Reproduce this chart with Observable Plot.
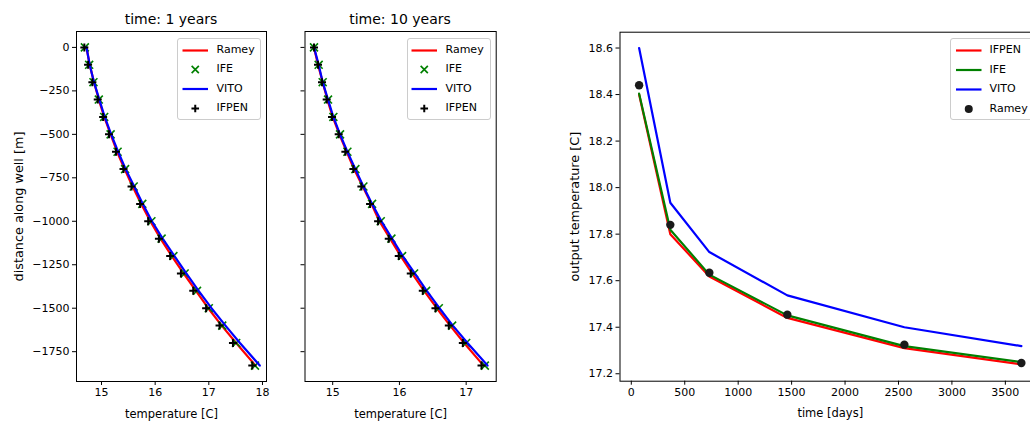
<!DOCTYPE html>
<html><head><meta charset="utf-8">
<script src="https://cdn.jsdelivr.net/npm/d3@7"></script>
<script src="https://cdn.jsdelivr.net/npm/@observablehq/plot@0.6"></script>
<style>
html,body{margin:0;padding:0;background:#fff;overflow:hidden;}
#wrap{position:relative;width:1030px;height:421px;overflow:hidden;font-family:"DejaVu Sans",sans-serif;color:#000;}
#wrap svg.panel{position:absolute;top:0;}
#wrap svg.panel g[aria-label="x-axis label"] text{font-size:11.5px;}
#wrap svg.panel g[aria-label="y-axis label"] text{font-size:12.8px;}
.title{position:absolute;font-size:14px;line-height:14px;white-space:nowrap;transform:translateX(-50%);}
.legend{position:absolute;background:rgba(255,255,255,0.8);border:1px solid #cccccc;border-radius:3px;box-sizing:border-box;font-size:11px;}
.legend .lab{position:absolute;line-height:12px;white-space:nowrap;transform:translateY(-50%);}
.legend svg{position:absolute;left:0;top:0;overflow:visible;}
</style></head>
<body>
<div id="wrap"></div>
<script>
// ---------- data ----------
const depth = [0,-100,-200,-300,-400,-500,-600,-700,-800,-900,-1000,-1100,-1200,-1300,-1400,-1500,-1600,-1700,-1830];

// time: 1 years
const ramey1 = [14.72,14.78,14.86,14.95,15.05,15.17,15.29,15.43,15.58,15.74,15.91,16.10,16.31,16.53,16.76,16.99,17.24,17.51,17.87];
const ife1   = [14.69,14.77,14.85,14.95,15.05,15.17,15.30,15.44,15.60,15.76,15.93,16.12,16.34,16.55,16.78,17.00,17.25,17.51,17.86];
const vito1  = [14.72,14.78,14.86,14.96,15.06,15.18,15.31,15.45,15.61,15.77,15.94,16.14,16.36,16.58,16.81,17.05,17.31,17.58,17.95];
const ifpen1 = [14.68,14.75,14.83,14.93,15.03,15.14,15.27,15.41,15.56,15.72,15.87,16.07,16.28,16.48,16.71,16.95,17.20,17.45,17.81];

// time: 10 years
const ramey10 = [14.72,14.78,14.85,14.92,15.00,15.10,15.21,15.32,15.45,15.58,15.70,15.86,16.02,16.19,16.37,16.56,16.76,16.97,17.26];
const ife10   = [14.72,14.79,14.85,14.93,15.01,15.11,15.22,15.34,15.46,15.59,15.72,15.88,16.04,16.22,16.40,16.59,16.79,17.00,17.28];
const vito10  = [14.72,14.79,14.85,14.93,15.01,15.11,15.22,15.34,15.46,15.59,15.73,15.89,16.05,16.23,16.41,16.60,16.80,17.02,17.32];
const ifpen10 = [14.72,14.78,14.84,14.91,14.99,15.09,15.19,15.31,15.43,15.56,15.68,15.84,15.99,16.17,16.35,16.54,16.74,16.95,17.23];

// output temperature over time
const days      = [73, 365, 730, 1460, 2555, 3650];
const outIFPEN  = [18.400, 17.800, 17.618, 17.440, 17.310, 17.240];
const outIFE    = [18.404, 17.819, 17.626, 17.451, 17.319, 17.250];
const outVITO   = [18.600, 17.935, 17.723, 17.537, 17.400, 17.319];
const outRamey  = [18.440, 17.840, 17.634, 17.454, 17.325, 17.246];

const depthTicks = [0,-250,-500,-750,-1000,-1250,-1500,-1750];
const tempTicks1 = [15,16,17,18];
const tempTicks10 = [15,16,17];
const dayTicks = [0,500,1000,1500,2000,2500,3000,3500];
const outTicks = [17.2,17.4,17.6,17.8,18.0,18.2,18.4,18.6];

// ---------- helpers ----------
const wrap = document.getElementById("wrap");
const baseStyle = {fontFamily:"'DejaVu Sans', sans-serif", fontSize:"11px", color:"black", background:"transparent", overflow:"visible"};

function profilePanel(R, E, V, P, opts) {
  const rows = depth.map((d,i)=>({depth:d, ramey:R[i], ife:E[i], vito:V[i], ifpen:P[i]}));
  const svg = Plot.plot({
    width: opts.width, height: 421,
    marginLeft: opts.ml, marginRight: opts.mr, marginTop: 31, marginBottom: 40,
    style: baseStyle,
    x: {domain: opts.xdomain, ticks: opts.xticks, tickFormat: "d", tickSize: 4, tickPadding: 3,
        label: "temperature [C]", labelAnchor: "center", labelArrow: "none", labelOffset: 36},
    y: {domain: [-1921.5, 91.5], ticks: depthTicks, tickSize: 4, tickPadding: 3,
        tickFormat: opts.ylabels ? "d" : () => "",
        label: opts.ylabels ? "distance along well [m]" : null, labelAnchor: "center", labelArrow: "none", labelOffset: 63},
    marks: [
      Plot.line(rows, {x:"ramey", y:"depth", stroke:"#ff0000", strokeWidth:2.2}),
      Plot.dot(rows, {x:"ife", y:"depth", symbol:"times", stroke:"#008000", r:3.7, strokeWidth:1.6}),
      Plot.line(rows, {x:"vito", y:"depth", stroke:"#0000ff", strokeWidth:2.2}),
      Plot.dot(rows, {x:"ifpen", y:"depth", symbol:"plus", stroke:"#000000", r:2.7, strokeWidth:2}),
      Plot.frame({stroke:"black", strokeWidth:1})
    ]
  });
  svg.classList.add("panel");
  svg.style.left = opts.left + "px";
  wrap.appendChild(svg);
}

function addTitle(text, cx) {
  const d = document.createElement("div");
  d.className = "title"; d.textContent = text;
  d.style.left = cx + "px"; d.style.top = "11.5px";
  wrap.appendChild(d);
}

function addLegend(box, entries) {
  const lg = document.createElement("div");
  lg.className = "legend";
  Object.assign(lg.style, {left: box.left+"px", top: box.top+"px", width: box.width+"px", height: box.height+"px"});
  const ns = "http://www.w3.org/2000/svg";
  const s = document.createElementNS(ns, "svg");
  s.setAttribute("width", box.width); s.setAttribute("height", box.height);
  entries.forEach((e, i) => {
    const cy = box.rowY[i];
    const x0 = box.sw0, x1 = box.sw1, cx = (x0+x1)/2;
    if (e.kind === "line") {
      const l = document.createElementNS(ns, "line");
      l.setAttribute("x1", x0); l.setAttribute("x2", x1); l.setAttribute("y1", cy); l.setAttribute("y2", cy);
      l.setAttribute("stroke", e.color); l.setAttribute("stroke-width", 2.2);
      s.appendChild(l);
    } else if (e.kind === "times") {
      const p = document.createElementNS(ns, "path");
      const r = 3.6;
      p.setAttribute("d", `M${cx-r},${cy-r}L${cx+r},${cy+r}M${cx-r},${cy+r}L${cx+r},${cy-r}`);
      p.setAttribute("stroke", e.color); p.setAttribute("stroke-width", 1.7);
      s.appendChild(p);
    } else if (e.kind === "plus") {
      const p = document.createElementNS(ns, "path");
      const r = 3.8;
      p.setAttribute("d", `M${cx-r},${cy}L${cx+r},${cy}M${cx},${cy-r}L${cx},${cy+r}`);
      p.setAttribute("stroke", e.color); p.setAttribute("stroke-width", 2);
      s.appendChild(p);
    } else if (e.kind === "dot") {
      const c = document.createElementNS(ns, "circle");
      c.setAttribute("cx", cx); c.setAttribute("cy", cy); c.setAttribute("r", 4);
      c.setAttribute("fill", e.color);
      s.appendChild(c);
    }
    const t = document.createElement("div");
    t.className = "lab"; t.textContent = e.label;
    t.style.left = box.text + "px"; t.style.top = cy + "px";
    lg.appendChild(t);
  });
  lg.insertBefore(s, lg.firstChild);
  wrap.appendChild(lg);
}

// ---------- panel 1 & 2 ----------
profilePanel(ramey1, ife1, vito1, ifpen1, {left:0, width:280, ml:76, mr:14, xdomain:[14.534,18.075], xticks:tempTicks1, ylabels:true});
profilePanel(ramey10, ife10, vito10, ifpen10, {left:280, width:240, ml:24.5, mr:24.3, xdomain:[14.585,17.45], xticks:tempTicks10, ylabels:false});
addTitle("time: 1 years", 171);
addTitle("time: 10 years", 400);

const profEntries = [
  {label:"Ramey", kind:"line", color:"#ff0000"},
  {label:"IFE", kind:"times", color:"#008000"},
  {label:"VITO", kind:"line", color:"#0000ff"},
  {label:"IFPEN", kind:"plus", color:"#000000"}
];
addLegend({left:177, top:37.5, width:84, height:82, rowY:[11.5,30.5,50,69.5], sw0:4.5, sw1:30, text:38.5}, profEntries);
addLegend({left:407, top:37.5, width:84, height:82, rowY:[11.5,30.5,50,69.5], sw0:3.5, sw1:29, text:37.5}, profEntries);

// ---------- panel 3 ----------
const series = days.map((d,i)=>({day:d, ifpen:outIFPEN[i], ife:outIFE[i], vito:outVITO[i], ramey:outRamey[i]}));
const svg3 = Plot.plot({
  width: 520, height: 421,
  marginLeft: 79.5, marginRight: 20, marginTop: 31.7, marginBottom: 40.3,
  style: baseStyle,
  x: {domain:[-105.85, 3828.85], ticks: dayTicks, tickFormat:"d", tickSize:4, tickPadding:3,
      label:"time [days]", labelAnchor:"center", labelArrow:"none", labelOffset:36},
  y: {domain:[17.168, 18.668], ticks: outTicks, tickFormat:".1f", tickSize:4, tickPadding:3,
      label:"output temperature [C]", labelAnchor:"center", labelArrow:"none", labelOffset:50},
  marks: [
    Plot.line(series, {x:"day", y:"ifpen", stroke:"#ff0000", strokeWidth:2.2}),
    Plot.line(series, {x:"day", y:"ife", stroke:"#008000", strokeWidth:2.2}),
    Plot.line(series, {x:"day", y:"vito", stroke:"#0000ff", strokeWidth:2.2}),
    Plot.dot(series, {x:"day", y:"ramey", r:4.2, fill:"#1a1a1a"}),
    Plot.frame({stroke:"black", strokeWidth:1})
  ]
});
svg3.classList.add("panel");
svg3.style.left = "540px";
wrap.appendChild(svg3);

addLegend({left:950, top:37.5, width:92, height:82, rowY:[11.5,31,50.5,70], sw0:5, sw1:30.5, text:38.5}, [
  {label:"IFPEN", kind:"line", color:"#ff0000"},
  {label:"IFE", kind:"line", color:"#008000"},
  {label:"VITO", kind:"line", color:"#0000ff"},
  {label:"Ramey", kind:"dot", color:"#1a1a1a"}
]);
</script>
</body></html>
